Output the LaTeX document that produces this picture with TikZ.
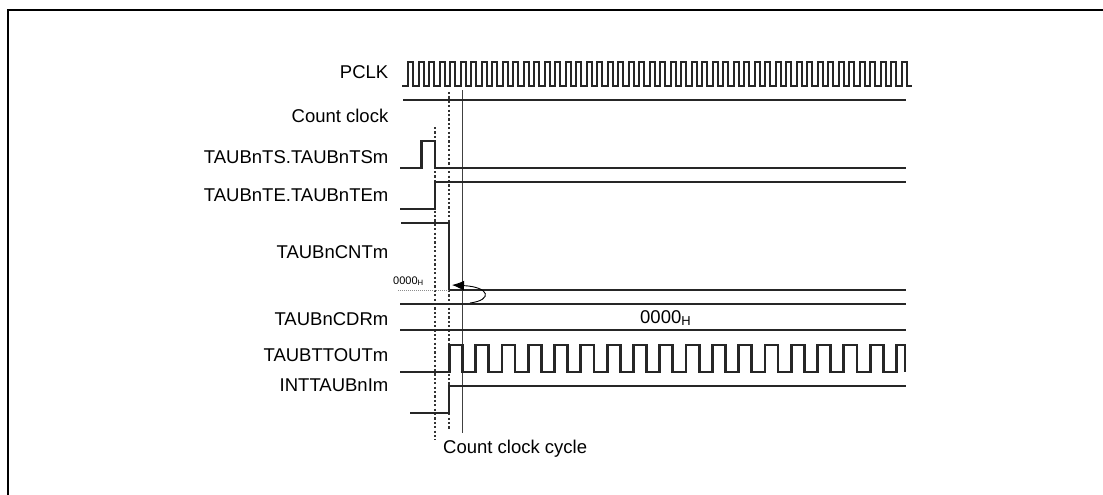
\documentclass[tikz,border=0pt]{standalone}
\usepackage{fontspec}
\setmainfont{Liberation Sans}
\usetikzlibrary{arrows.meta}
\tikzset{
sig/.style={line width=2.8pt,black!85,line join=miter},
clk/.style={line width=2pt,black!85},
lbl/.style={anchor=base east,inner sep=0pt,font=\fontsize{18.5}{22}\selectfont},
val/.style={anchor=base west,inner sep=0pt,font=\fontsize{18.5}{22}\selectfont},
smallval/.style={anchor=base west,inner sep=0pt,font=\fontsize{11}{13}\selectfont},
edgemark/.style={line width=1.2pt,black!80,dash pattern=on 2.2pt off 2.2pt},
cyclemark/.style={line width=0.9pt,black!75},
zeroguide/.style={line width=0.9pt,black!45,dash pattern=on 1pt off 1pt},
reload/.style={line width=0.9pt,black,-{Latex[length=12pt,width=10pt]}},
frameline/.style={line width=2.4pt,black}
}

\begin{document}
\begin{tikzpicture}[x=1pt,y=-1pt]
\useasboundingbox (0,0) rectangle (1103,495);
\draw[frameline] (8,495) -- (8,10) -- (1103,10);

\node[lbl] (pclk) at (388.5,78.5) {PCLK};
\node[lbl] (cntclk) at (388.5,122) {Count clock};
\node[lbl] (ts) at (388.5,163.5) {TAUBnTS.TAUBnTSm};
\node[lbl] (te) at (388.5,201.5) {TAUBnTE.TAUBnTEm};
\node[lbl] (cnt) at (388.5,258) {TAUBnCNTm};
\node[lbl] (cdr) at (388.5,325.5) {TAUBnCDRm};
\node[lbl] (ttout) at (388.5,361) {TAUBTTOUTm};
\node[lbl] (intr) at (388.5,391) {INTTAUBnIm};

\draw[edgemark] (435,127) -- (435,440);
\draw[edgemark] (449,92) -- (449,430);
\draw[cyclemark] (462.5,90) -- (462.5,433);
\node[val] (cycle) at (443,453) {Count clock cycle};

\draw[clk] (402,86) -- (408,86) \foreach \k in {1,...,48} { -- ++(0,-24) -- ++(5.25,0) -- ++(0,24) -- ++(5.25,0)};
\draw[sig] (403,100) -- (906,100);
\draw[sig] (400,168) -- (421.5,168) -- (421.5,141) -- (435,141) -- (435,168) -- (906,168);
\draw[sig] (400,209) -- (435,209) -- (435,182) -- (906,182);
\draw[sig] (401,223) -- (449,223) -- (449,290) -- (906,290);
\draw[zeroguide] (398,290) -- (449,290);
\node[smallval] (zero) at (393,284) {0000\textsubscript{H}};
\draw[reload] (470,303) .. controls (493,300) and (490,287) .. (452,285);
\draw[sig] (400,304) -- (906,304);
\draw[sig] (400,330) -- (906,330);
\node[val] (cdrval) at (640,323) {0000\textsubscript{H}};
\draw[sig] (400,372) -- (449.3,372) \foreach \k in {1,...,17} { -- ++(0,-27) -- ++(13.15,0) -- ++(0,27) -- ++(13.15,0)} -- ++(0,-27) -- (905,345) -- (905,372);
\draw[sig] (410,413) -- (449,413) -- (449,386) -- (906,386);
\end{tikzpicture}
\end{document}
